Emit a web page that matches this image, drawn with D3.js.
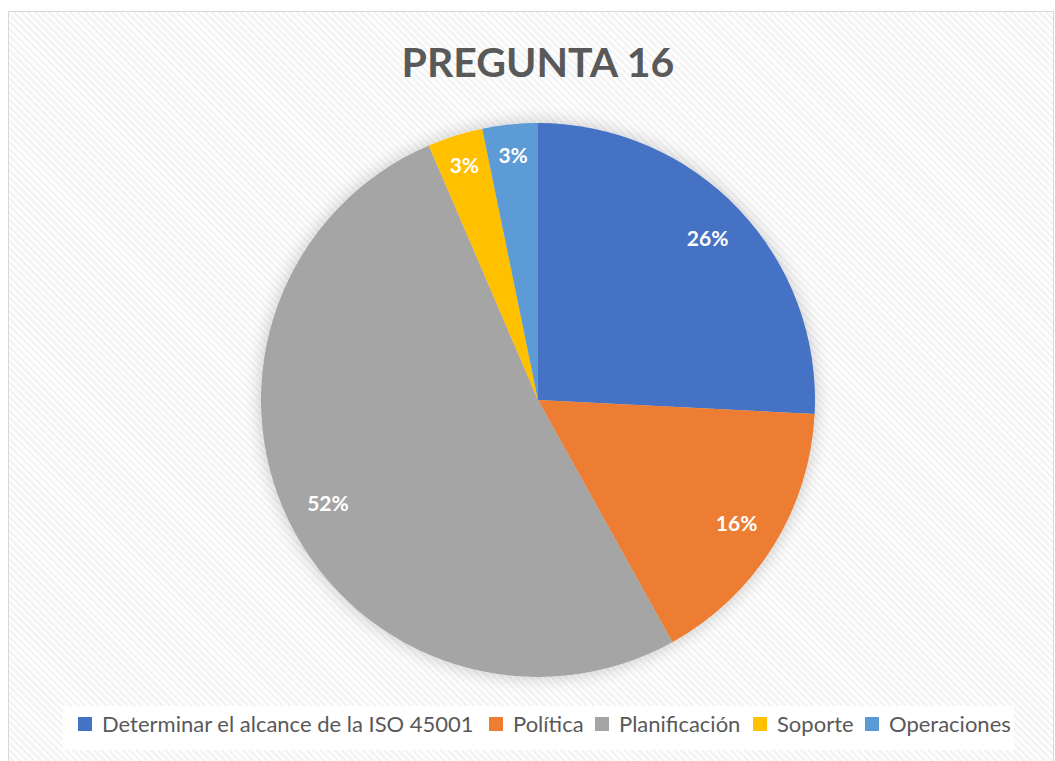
<!DOCTYPE html>
<html>
<head>
<meta charset="utf-8">
<script src="https://cdn.jsdelivr.net/npm/d3@7"></script>
<style>
  body { margin: 0; background: #fff; }
  svg { display: block; font-family: Lato, "Open Sans", sans-serif; }
</style>
</head>
<body>
<svg width="1055" height="761"></svg>
<script>
var categories = ['Determinar el alcance de la ISO 45001', 'Política', 'Planificación', 'Soporte', 'Operaciones'],
    counts = [8, 5, 16, 1, 1],
    colors = ['#4472c4', '#ed7d31', '#a5a5a5', '#ffc000', '#5b9bd5'],
    title = 'PREGUNTA 16';

var svg = d3.select('svg'),
    width = +svg.attr('width'),
    height = +svg.attr('height'),
    cx = 538, cy = 400, radius = 277,
    total = d3.sum(counts);

var defs = svg.append('defs');

// light diagonal stripe background like the office chart style
var pat = defs.append('pattern')
    .attr('id', 'stripes')
    .attr('width', 5)
    .attr('height', 5)
    .attr('patternUnits', 'userSpaceOnUse')
    .attr('patternTransform', 'rotate(-45)');
pat.append('rect').attr('width', 5).attr('height', 5).attr('fill', '#ffffff');
pat.append('rect').attr('width', 2.5).attr('height', 5).attr('fill', '#f3f3f3');

var shadow = defs.append('filter')
    .attr('id', 'glow')
    .attr('x', '-20%').attr('y', '-20%')
    .attr('width', '140%').attr('height', '140%');
shadow.append('feGaussianBlur').attr('in', 'SourceAlpha').attr('stdDeviation', 9).attr('result', 'blur');
shadow.append('feComponentTransfer').attr('in', 'blur').attr('result', 'soft')
  .append('feFuncA').attr('type', 'linear').attr('slope', 0.22);
var merge = shadow.append('feMerge');
merge.append('feMergeNode').attr('in', 'soft');
merge.append('feMergeNode').attr('in', 'SourceGraphic');

svg.append('rect')
    .attr('x', 8.5).attr('y', 11.5)
    .attr('width', 1045).attr('height', 760)
    .attr('fill', 'url(#stripes)')
    .attr('stroke', '#d9d9d9')
    .attr('stroke-width', 1);

svg.append('text')
    .attr('x', cx)
    .attr('y', 77)
    .attr('text-anchor', 'middle')
    .attr('font-size', 41)
    .attr('font-weight', 700)
    .attr('fill', '#595959')
    .text(title);

var pie = d3.pie().sort(null).value(function(d) { return d; });
var arcs = pie(counts);
var arc = d3.arc().innerRadius(0).outerRadius(radius);

var g = svg.append('g').attr('transform', 'translate(' + cx + ',' + cy + ')');

g.append('g')
    .attr('filter', 'url(#glow)')
  .selectAll('path')
  .data(arcs)
  .enter().append('path')
    .attr('d', arc)
    .attr('fill', function(d, i) { return colors[i]; });

g.selectAll('text.lbl')
  .data(arcs)
  .enter().append('text')
    .attr('class', 'lbl')
    .attr('transform', function(d) {
      var small = (d.endAngle - d.startAngle) < 0.3;
      var r = small ? 246 : 234;
      var c = d3.arc().innerRadius(r).outerRadius(r).centroid(d);
      return 'translate(' + c + ')';
    })
    .attr('text-anchor', 'middle')
    .attr('dy', '0.36em')
    .attr('font-size', 21)
    .attr('font-weight', 700)
    .attr('fill', '#ffffff')
    .text(function(d) { return Math.round(d.data / total * 100) + '%'; });

// legend
var legendX = [78, 489, 595, 753, 865];
svg.append('rect')
    .attr('x', 63).attr('y', 706)
    .attr('width', 951).attr('height', 44)
    .attr('fill', '#ffffff');

var leg = svg.selectAll('g.leg')
  .data(categories)
  .enter().append('g')
    .attr('class', 'leg')
    .attr('transform', function(d, i) { return 'translate(' + legendX[i] + ',717)'; });

leg.append('rect')
    .attr('width', 14).attr('height', 14)
    .attr('fill', function(d, i) { return colors[i]; });

leg.append('text')
    .attr('x', 24)
    .attr('y', 7)
    .attr('dy', '0.36em')
    .attr('font-size', 22)
    .attr('fill', '#595959')
    .text(function(d) { return d; });
</script>
</body>
</html>
